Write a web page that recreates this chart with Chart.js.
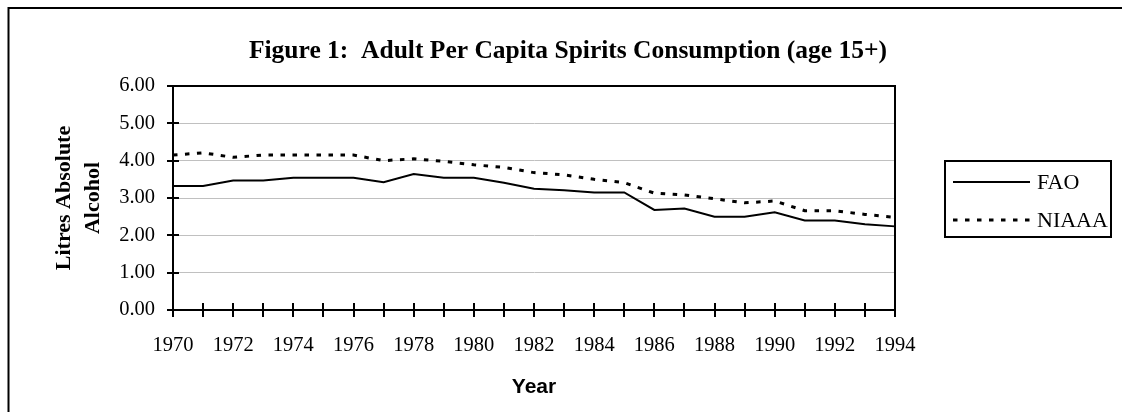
<!DOCTYPE html>
<html>
<head>
<meta charset="utf-8">
<script src="https://cdn.jsdelivr.net/npm/chart.js@4.4.1/dist/chart.umd.min.js"></script>
<style>
  html, body { margin: 0; padding: 0; background: #fff; }
  canvas { display: block; }
</style>
</head>
<body>
<canvas id="spiritsChart" width="1122" height="412"></canvas>
<script>
const years = ['1970', '1971', '1972', '1973', '1974', '1975', '1976', '1977', '1978', '1979',
  '1980', '1981', '1982', '1983', '1984', '1985', '1986', '1987', '1988', '1989',
  '1990', '1991', '1992', '1993', '1994'];
const fao = [3.32, 3.32, 3.47, 3.47, 3.54, 3.54, 3.54, 3.42, 3.64, 3.54,
  3.54, 3.41, 3.25, 3.21, 3.15, 3.15, 2.68, 2.72, 2.50, 2.50,
  2.62, 2.40, 2.40, 2.30, 2.24];
const niaaa = [4.15, 4.21, 4.09, 4.15, 4.15, 4.15, 4.15, 4.00, 4.05, 3.98,
  3.89, 3.82, 3.68, 3.62, 3.50, 3.41, 3.13, 3.08, 2.98, 2.87,
  2.92, 2.66, 2.66, 2.56, 2.48];
const chartTitle = 'Figure 1:  Adult Per Capita Spirits Consumption (age 15+)';
const yTitle = ['Litres Absolute', 'Alcohol'];
const xTitle = 'Year';

const serif = "'Liberation Serif', 'Times New Roman', serif";

// title, legend box, crossing tick marks and borders
const decorations = {
  id: 'decorations',
  afterDraw(chart) {
    const ctx = chart.ctx;
    const area = chart.chartArea;
    const xs = chart.scales.x;
    const ys = chart.scales.y;
    ctx.save();
    ctx.strokeStyle = '#000';
    ctx.lineWidth = 2;
    ctx.setLineDash([]);
    ctx.strokeRect(area.left, area.top, area.right - area.left, area.bottom - area.top);

    ctx.beginPath();
    for (let i = 0; i < years.length; i++) {
      const x = Math.round(xs.getPixelForValue(i));
      ctx.moveTo(x, area.bottom - 7);
      ctx.lineTo(x, area.bottom + 7);
    }
    ys.ticks.forEach(t => {
      const y = Math.round(ys.getPixelForValue(t.value));
      ctx.moveTo(area.left - 6, y);
      ctx.lineTo(area.left + 6, y);
    });
    ctx.stroke();

    // outer frame
    ctx.beginPath();
    ctx.moveTo(8.5, 412);
    ctx.lineTo(8.5, 8);
    ctx.lineTo(1122, 8);
    ctx.stroke();

    // title
    ctx.fillStyle = '#000';
    ctx.font = "bold 25.5px " + serif;
    ctx.textAlign = 'center';
    ctx.textBaseline = 'alphabetic';
    ctx.fillText(chartTitle, 568, 58);

    // legend
    ctx.lineWidth = 2;
    ctx.strokeRect(945, 161, 166, 76);
    ctx.font = "22px " + serif;
    ctx.textAlign = 'left';
    ctx.textBaseline = 'middle';
    chart.data.datasets.forEach((ds, i) => {
      const y = 182 + i * 38;
      ctx.beginPath();
      ctx.strokeStyle = ds.borderColor;
      ctx.lineWidth = ds.borderWidth;
      ctx.setLineDash(ds.borderDash || []);
      ctx.moveTo(953, y);
      ctx.lineTo(1030, y);
      ctx.stroke();
      ctx.fillText(ds.label, 1037, y + 1);
    });
    ctx.restore();
  }
};

new Chart(document.getElementById('spiritsChart'), {
  type: 'line',
  data: {
    labels: years,
    datasets: [{
      label: 'FAO',
      data: fao,
      borderColor: '#000',
      borderWidth: 2,
      pointRadius: 0,
      tension: 0,
      fill: false
    }, {
      label: 'NIAAA',
      data: niaaa,
      borderColor: '#000',
      borderWidth: 3,
      borderDash: [4.5, 7.5],
      pointRadius: 0,
      tension: 0,
      fill: false
    }]
  },
  options: {
    responsive: false,
    animation: false,
    layout: { padding: { left: 0, right: 227, top: 86, bottom: 0 } },
    plugins: {
      legend: { display: false },
      title: { display: false },
      tooltip: { enabled: false }
    },
    scales: {
      x: {
        afterFit(scale) { scale.height = 102; },
        grid: { display: false },
        border: { display: true, color: '#000', width: 2 },
        ticks: {
          autoSkip: false,
          maxRotation: 0,
          padding: 15,
          color: '#000',
          font: { family: serif, size: 20.5 },
          callback: (v, i) => (i % 2 === 0 ? years[i] : '')
        },
        title: {
          display: true,
          text: xTitle,
          color: '#000',
          font: { family: "'Liberation Sans', Arial, sans-serif", size: 21, weight: 'bold' },
          padding: { top: 0, bottom: 12 }
        }
      },
      y: {
        min: 0,
        max: 6,
        afterFit(scale) { scale.width = 173; },
        grid: { color: '#c0c0c0', lineWidth: 1, drawTicks: false },
        border: { display: true, color: '#000', width: 2 },
        ticks: {
          stepSize: 1,
          padding: 18,
          color: '#000',
          font: { family: serif, size: 20.5 },
          callback: v => v.toFixed(2)
        },
        title: {
          display: true,
          text: yTitle,
          color: '#000',
          font: { family: serif, size: 22, weight: 'bold', lineHeight: 1.32 },
          padding: { top: 49.5, bottom: 0 }
        }
      }
    }
  },
  plugins: [decorations]
});
</script>
</body>
</html>
